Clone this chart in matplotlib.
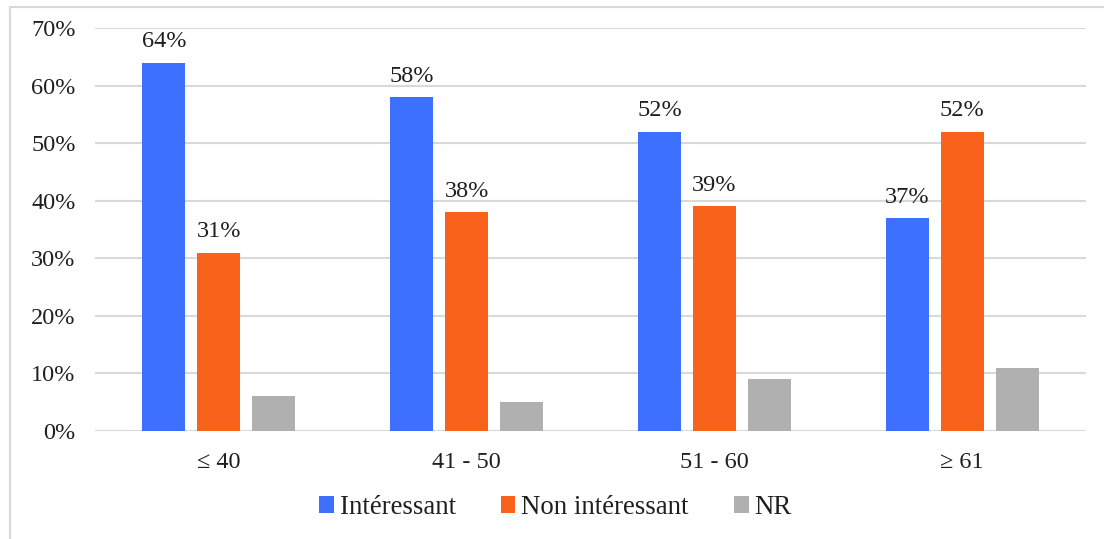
import matplotlib
matplotlib.use("Agg")
import matplotlib.pyplot as plt
import numpy as np
from matplotlib.lines import Line2D
from matplotlib.patches import Patch

categories = ["\u2264 40", "41 - 50", "51 - 60", "\u2265 61"]
series_names = ["Intéressant", "Non intéressant", "NR"]
interessant = [64, 58, 52, 37]
non_interessant = [31, 38, 39, 52]
nr = [6, 5, 9, 11]
yticks = [0, 10, 20, 30, 40, 50, 60, 70]
colors = ["#3D70FF", "#F9621A", "#B0B0B0"]

plt.rcParams['font.family'] = ['Liberation Serif', 'DejaVu Serif']
text_color = "#1F1F1F"

fig = plt.figure(figsize=(11.04, 5.39), dpi=100)
ax = fig.add_axes([0.0861, 0.2004, 0.8976, 0.7477])

x = np.arange(len(categories))
width = 0.1736
step = 0.222
series = [interessant, non_interessant, nr]
for i, (vals, col) in enumerate(zip(series, colors)):
    bars = ax.bar(x + (i - 1) * step, vals, width, color=col, zorder=3,
                  label=series_names[i])
    if i < 2:
        for b, v in zip(bars, vals):
            ax.annotate(f"{v}%", (b.get_x() + b.get_width() / 2, v),
                        xytext=(0, 7.5), textcoords="offset points",
                        ha="center", va="bottom", fontsize=17.5,
                        color=text_color)

ax.set_xlim(-0.5, len(categories) - 0.5)
ax.set_ylim(0, 70)
ax.set_yticks(yticks)
ax.set_yticklabels([f"{t}%" for t in yticks], fontsize=17.5, color=text_color)
ax.set_xticks(x)
ax.set_xticklabels(categories, fontsize=17.5, color=text_color)
ax.tick_params(axis='both', length=0)
ax.tick_params(axis='y', pad=14)
ax.tick_params(axis='x', pad=15)
for s in ax.spines.values():
    s.set_visible(False)
ax.yaxis.grid(True, color="#D9D9D9", linewidth=1.5, zorder=0)
ax.set_axisbelow(True)

handles = [Patch(facecolor=c, edgecolor='none') for c in colors]
fig.legend(handles, series_names, loc="center", bbox_to_anchor=(0.503, 0.058),
           ncol=3, frameon=False, fontsize=19.4, handlelength=0.55,
           handleheight=0.6, handletextpad=0.22, columnspacing=1.67,
           labelcolor=text_color)

# outer frame lines
fig.add_artist(Line2D([10 / 1104, 10 / 1104], [0, 1 - 7 / 539],
                      transform=fig.transFigure, color="#D9D9D9", linewidth=1.5))
fig.add_artist(Line2D([10 / 1104, 1], [1 - 7 / 539, 1 - 7 / 539],
                      transform=fig.transFigure, color="#D9D9D9", linewidth=1.5))

fig.savefig("out.png", dpi=100)
